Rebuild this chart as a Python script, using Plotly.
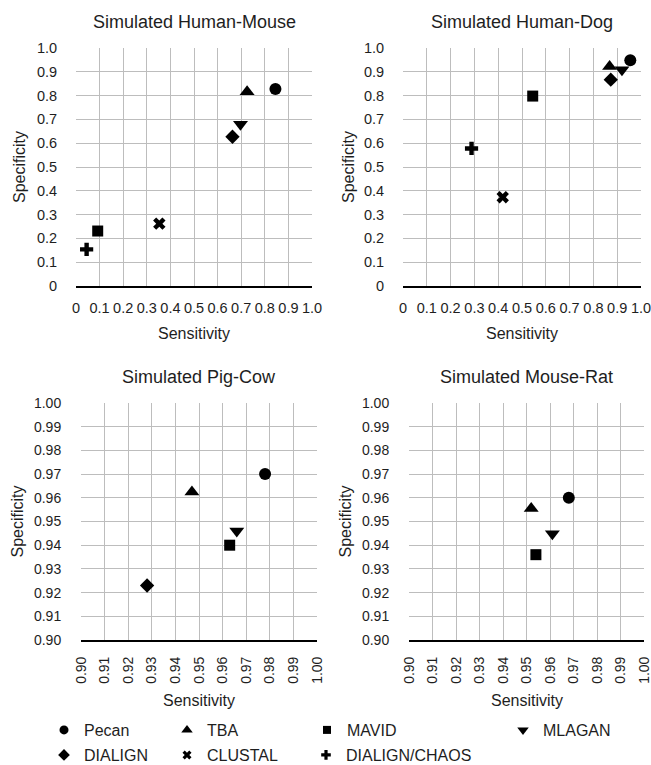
import plotly.graph_objects as go

# ---------------- data ----------------
panel_titles = ["Simulated Human-Mouse", "Simulated Human-Dog",
                "Simulated Pig-Cow", "Simulated Mouse-Rat"]

methods = ["Pecan", "TBA", "MAVID", "MLAGAN", "DIALIGN", "CLUSTAL", "DIALIGN/CHAOS"]

# sensitivity / specificity per panel (Human-Mouse, Human-Dog, Pig-Cow, Mouse-Rat)
pecan_sens = [0.845, 0.955, 0.978, 0.968]
pecan_spec = [0.828, 0.949, 0.970, 0.960]
tba_sens = [0.725, 0.868, 0.947, 0.952]
tba_spec = [0.816, 0.922, 0.9625, 0.9555]
mavid_sens = [0.092, 0.545, 0.963, 0.954]
mavid_spec = [0.231, 0.798, 0.940, 0.936]
mlagan_sens = [0.697, 0.920, 0.966, 0.961]
mlagan_spec = [0.680, 0.909, 0.946, 0.9448]
dialign_sens = [0.663, 0.873, 0.928, None]
dialign_spec = [0.627, 0.867, 0.923, None]
clustal_sens = [0.353, 0.419, None, None]
clustal_spec = [0.262, 0.373, None, None]
chaos_sens = [0.045, 0.288, None, None]
chaos_spec = [0.154, 0.578, None, None]

ticks_coarse = [0, 0.1, 0.2, 0.3, 0.4, 0.5, 0.6, 0.7, 0.8, 0.9, 1.0]
ticktext_coarse = ["0", "0.1", "0.2", "0.3", "0.4", "0.5", "0.6", "0.7", "0.8", "0.9", "1.0"]
ticks_fine = [0.90, 0.91, 0.92, 0.93, 0.94, 0.95, 0.96, 0.97, 0.98, 0.99, 1.00]
ticktext_fine = ["0.90", "0.91", "0.92", "0.93", "0.94", "0.95", "0.96", "0.97", "0.98", "0.99", "1.00"]

# ---------------- styling ----------------
W, H = 651, 765
FONT = "Liberation Sans, Arial, Helvetica, sans-serif"
TXT = "#1e1e1e"
GRID = "#bdbdbd"
CLEAR = "rgba(0,0,0,0)"

sens = [pecan_sens, tba_sens, mavid_sens, mlagan_sens, dialign_sens, clustal_sens, chaos_sens]
spec = [pecan_spec, tba_spec, mavid_spec, mlagan_spec, dialign_spec, clustal_spec, chaos_spec]
symbols = ["circle", "triangle-up", "square", "triangle-down", "diamond", "x", "cross"]
sizes = [12, 13, 11, 13, 11, 11, 11]
leg_sizes = [9, 10, 8, 10, 9, 8, 8]

# plot areas in pixels: (left, right, top, bottom)
boxes = [(76, 312, 48, 286), (403, 641, 48, 286),
         (81, 317, 403, 640), (409, 644, 403, 640)]

fig = go.Figure()

for p in range(4):
    ax = "" if p == 0 else str(p + 1)
    for m in range(len(methods)):
        xv = sens[m][p]
        yv = spec[m][p]
        if xv is None:
            continue
        fig.add_trace(go.Scatter(
            x=[xv], y=[yv], mode="markers", name=methods[m],
            xaxis="x" + ax, yaxis="y" + ax, showlegend=False,
            legendgroup=methods[m], cliponaxis=False,
            marker=dict(symbol=symbols[m], size=sizes[m], color="black",
                        line=dict(width=0)),
        ))

# legend entries (one legend per entry for exact placement): left edge px, centre y px
leg_pos = [(44, 730), (167, 730), (307, 730), (503, 730),
           (44, 755), (167, 755), (306, 755)]
for m in range(len(methods)):
    lid = "legend" if m == 0 else "legend%d" % (m + 1)
    fig.add_trace(go.Scatter(
        x=[None], y=[None], mode="markers", name=methods[m],
        legendgroup=methods[m], showlegend=True, legend=lid,
        marker=dict(symbol=symbols[m], size=leg_sizes[m], color="black"),
    ))

layout = dict(
    width=W, height=H,
    margin=dict(l=0, r=0, t=0, b=0, pad=0, autoexpand=False),
    paper_bgcolor="white", plot_bgcolor="white",
    font=dict(family=FONT, color=TXT, size=14),
    annotations=[],
)

for m in range(len(methods)):
    lid = "legend" if m == 0 else "legend%d" % (m + 1)
    lx, ly = leg_pos[m]
    layout[lid] = dict(
        x=lx / W, y=1 - ly / H, xanchor="left", yanchor="middle",
        xref="paper", yref="paper",
        bgcolor=CLEAR, borderwidth=0,
        font=dict(family=FONT, size=16, color=TXT),
        itemwidth=30, itemclick=False, itemdoubleclick=False,
    )

for p in range(4):
    l, r, t, b = boxes[p]
    ax = "" if p == 0 else str(p + 1)
    fine = p >= 2
    tv = ticks_fine if fine else ticks_coarse
    tt = ticktext_fine if fine else ticktext_coarse
    rng = [0.90, 1.00] if fine else [0, 1]
    fs = 14 if fine else 14.5
    layout["xaxis" + ax] = dict(
        domain=[l / W, r / W], anchor="y" + ax, range=rng,
        tickmode="array", tickvals=tv, ticktext=tt,
        tickangle=-90 if fine else 0,
        showgrid=True, gridcolor=GRID, gridwidth=1,
        zeroline=False, showline=True, linecolor="black", linewidth=2,
        ticks="outside", ticklen=9 if fine else 8, tickcolor=CLEAR,
        ticklabeloverflow="allow",
        tickfont=dict(size=fs, family=FONT, color=TXT),
        fixedrange=True,
    )
    layout["yaxis" + ax] = dict(
        domain=[1 - b / H, 1 - t / H], anchor="x" + ax, range=rng,
        tickmode="array", tickvals=tv, ticktext=tt,
        showgrid=True, gridcolor=GRID, gridwidth=1,
        zeroline=False, showline=False,
        ticks="outside", ticklen=16 if fine else 15, tickcolor=CLEAR,
        ticklabeloverflow="allow",
        tickfont=dict(size=fs, family=FONT, color=TXT),
        fixedrange=True,
    )
    # panel title
    layout["annotations"].append(dict(
        text=panel_titles[p], xref="paper", yref="paper",
        x=(l + r) / 2 / W, y=1 - (22 if p < 2 else 377) / H,
        xanchor="center", yanchor="middle", showarrow=False,
        font=dict(size=18, family=FONT, color=TXT)))
    # x-axis title
    layout["annotations"].append(dict(
        text="Sensitivity", xref="paper", yref="paper",
        x=(l + r) / 2 / W, y=1 - (333 if p < 2 else 700) / H,
        xanchor="center", yanchor="middle", showarrow=False,
        font=dict(size=16, family=FONT, color=TXT)))
    # y-axis title
    ytx = [19, 348, 17, 345][p]
    layout["annotations"].append(dict(
        text="Specificity", xref="paper", yref="paper",
        x=ytx / W, y=1 - (t + b) / 2 / H, textangle=-90,
        xanchor="center", yanchor="middle", showarrow=False,
        font=dict(size=16, family=FONT, color=TXT)))

fig.update_layout(**layout)
fig.write_html("out.html")
